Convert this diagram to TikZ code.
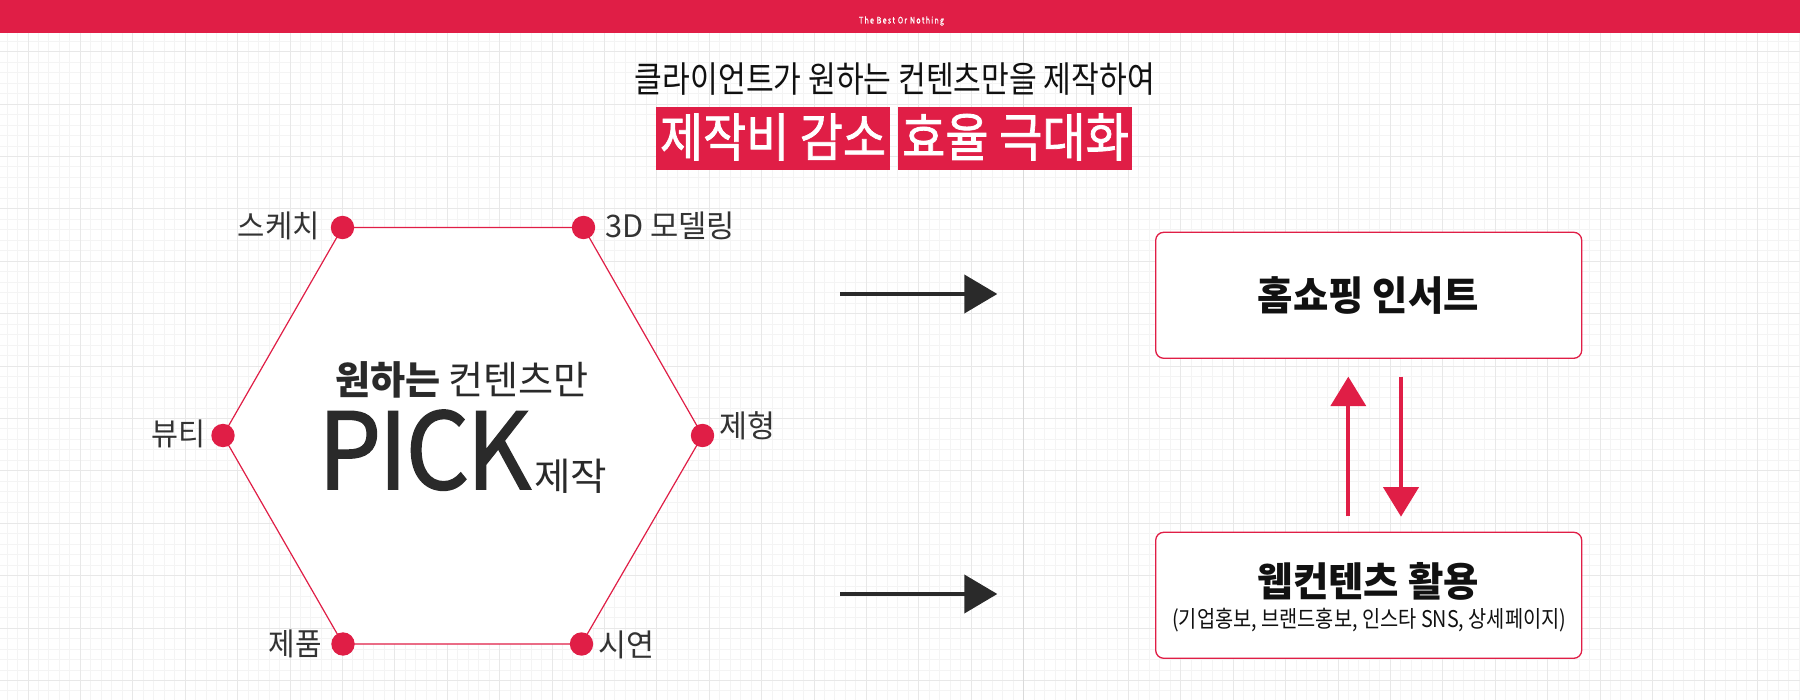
\documentclass[tikz,border=0pt]{standalone}
\usepackage{fontspec}
\usepackage{graphicx}
\setmainfont{Noto Sans CJK KR}
\newfontfamily\krmed[FakeBold=1.5]{Noto Sans CJK KR}
\newfontfamily\krsemi[FakeBold=0.8]{Noto Sans CJK KR}
\usetikzlibrary{arrows.meta}
\definecolor{crim}{RGB}{224,30,70}
\definecolor{gminor}{RGB}{244,244,244}
\definecolor{gmajor}{RGB}{232,232,232}
\definecolor{gcenter}{RGB}{218,218,218}
\definecolor{ink}{RGB}{51,51,51}
\definecolor{inkd}{RGB}{42,42,42}
\definecolor{inkb}{RGB}{17,17,17}
\newcommand\hw[2]{\resizebox{#1}{\height}{#2}}
\newcommand\fsz[1]{\fontsize{#1pt}{#1pt}\selectfont}
\begin{document}
\begin{tikzpicture}[x=1pt,y=-1pt,
  txt/.style={inner sep=0pt, outer sep=0pt},
  lbl/.style={txt, text=ink},
  dot/.style={circle, fill=crim, minimum size=23.4pt, inner sep=0pt},
  hexline/.style={draw=crim, line width=1.2pt, fill=white, line join=miter},
  tagbox/.style={fill=crim, inner sep=0pt, minimum width=234pt, minimum height=63pt},
  outbox/.style={draw=crim, line width=1.3pt, fill=white, rounded corners=8pt, minimum width=426pt, minimum height=126pt, inner sep=0pt},
  darr/.style={draw=inkd, line width=4pt, -{Triangle[length=33pt,width=38pt]}},
  rarr/.style={draw=crim, line width=4pt, -{Triangle[length=29.5pt,width=35pt]}},
]
\useasboundingbox (0,0) rectangle (1800,700);
\fill[white] (0,0) rectangle (1800,700);
% grid
\foreach \i in {0,...,171} {\draw[gminor, line width=1pt] ({7.04+10.48*\i},0) -- ++(0,700);}
\foreach \i in {0,...,66} {\draw[gminor, line width=1pt] (0,{9.78+10.48*\i}) -- ++(1800,0);}
\foreach \i in {0,...,33} {\draw[gmajor, line width=1pt] ({28+52.4*\i},0) -- ++(0,700);}
\foreach \i in {0,...,12} {\draw[gmajor, line width=1pt] (0,{51.7+52.4*\i}) -- ++(1800,0);}
\draw[gcenter, line width=1.2pt] (1023.3,0) -- (1023.3,700);
% banner
\fill[crim] (0,0) rectangle (1800,33.5);
\node[txt, text=white, anchor=base] (brand) at (901.5,23.5) {\fsz{9}\krsemi\hw{85pt}{T\,h\,e\, B\,e\,s\,t\, O\,r\, N\,o\,t\,h\,i\,n\,g}};
% title
\node[txt, text=inkb, anchor=base] (title) at (895,92.5) {\fsz{36}\hw{520pt}{클라이언트가 원하는 컨텐츠만을 제작하여}};
\node[tagbox] (tag1) at (773,138.5) {};
\node[tagbox] (tag2) at (1015,138.5) {};
\node[txt, text=white, anchor=base] (tag1t) at (773,156.4) {\fsz{52}\krmed\hw{226pt}{제작비 감소}};
\node[txt, text=white, anchor=base] (tag2t) at (1015.5,156.4) {\fsz{52}\krmed\hw{227pt}{효율 극대화}};
% hexagon
\coordinate (p1) at (342.5,227.5);
\coordinate (p2) at (583.5,227.5);
\coordinate (p3) at (702.5,435.5);
\coordinate (p4) at (581.5,644);
\coordinate (p5) at (343,644);
\coordinate (p6) at (223,435.5);
\draw[hexline] (p1) -- (p2) -- (p3) -- (p4) -- (p5) -- (p6) -- cycle;
\node[dot] (d1) at (p1) {};
\node[dot] (d2) at (p2) {};
\node[dot] (d3) at (p3) {};
\node[dot] (d4) at (p4) {};
\node[dot] (d5) at (p5) {};
\node[dot] (d6) at (p6) {};
\node[lbl, anchor=base east] (l1) at (320,238) {\fsz{31}\hw{82pt}{스케치}};
\node[lbl, anchor=base west] (l2) at (605,238) {\fsz{31}\hw{130pt}{3D 모델링}};
\node[lbl, anchor=base west] (l3) at (719,438) {\fsz{31}\hw{56pt}{제형}};
\node[lbl, anchor=base west] (l4) at (598.5,656) {\fsz{31}\hw{56pt}{시연}};
\node[lbl, anchor=base east] (l5) at (321.5,655) {\fsz{31}\hw{53pt}{제품}};
\node[lbl, anchor=base east] (l6) at (205,446) {\fsz{31}\hw{54pt}{뷰티}};
% centre text
\node[txt, text=inkd, anchor=base] (want) at (462,394.5) {\fsz{39}\hw{254pt}{\textbf{원하는} 컨텐츠만}};
\node[txt, text=inkd, anchor=base west] (pick) at (318,489) {\krmed\resizebox{213pt}{79pt}{P\kern-0.03em I\kern-0.02em C\kern-0.03em K}};
\node[txt, text=inkd, anchor=base west] (make) at (534,490) {\fsz{38}\hw{73pt}{제작}};
% right boxes
\node[outbox] (hb) at (1368.7,295.3) {};
\node[outbox] (wb) at (1368.7,595.3) {};
\node[txt, text=inkb, anchor=base] (hbt) at (1368.3,311) {\fsz{40}\bfseries\hw{221pt}{홈쇼핑 인서트}};
\node[txt, text=inkb, anchor=base] (wbt) at (1368.3,596) {\fsz{40}\bfseries\hw{221pt}{웹컨텐츠 활용}};
\node[txt, text=inkb, anchor=base] (wbs) at (1369.2,627) {\fsz{23}\hw{394pt}{(기업홍보, 브랜드홍보, 인스타 SNS, 상세페이지)}};
% black arrows
\coordinate (a1s) at (840,294);
\coordinate (a1e) at (997.3,294);
\coordinate (a2s) at (840,594);
\coordinate (a2e) at (997.3,594);
\draw[darr] (a1s) -- (a1e);
\draw[darr] (a2s) -- (a2e);
% red arrows
\coordinate (upx) at (1348.3,0);
\coordinate (dnx) at (1401,0);
\draw[rarr, shorten <=15.3pt, shorten >=17.7pt] (wb.north -| upx) -- (hb.south -| upx);
\draw[rarr, shorten <=17.7pt, shorten >=15pt] (hb.south -| dnx) -- (wb.north -| dnx);
\end{tikzpicture}
\end{document}
